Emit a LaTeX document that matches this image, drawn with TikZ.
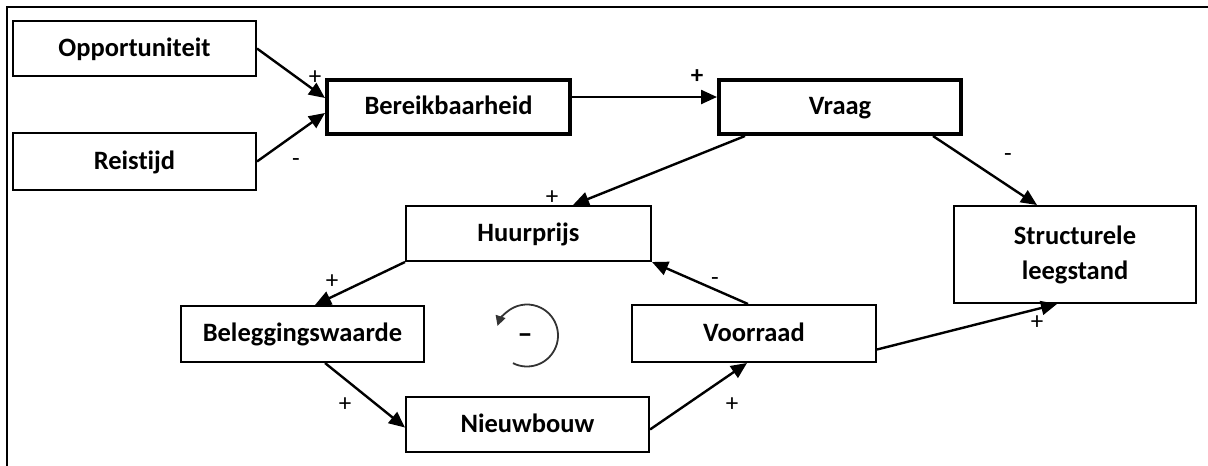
\documentclass[tikz,border=0pt]{standalone}
\usepackage{fontspec}
\setmainfont{Carlito}[Ligatures=CommonOff]
\usetikzlibrary{arrows.meta}
\tikzset{
  box/.style={draw=black, line width=2pt, rectangle, inner sep=0pt, font=\fontsize{26.5}{35}\selectfont\bfseries, text height=17pt, text depth=2pt},
  tallbox/.style={draw=black, line width=2pt, rectangle, inner sep=0pt, font=\fontsize{26.5}{35}\selectfont\bfseries, align=center},
  thickbox/.style={box, line width=4pt},
  link/.style={line width=2.4pt, -{Triangle[length=16pt,width=14pt]}},
  sign/.style={inner sep=0pt, font=\fontsize{25}{28}\selectfont},
  bsign/.style={sign, font=\fontsize{25}{28}\selectfont\bfseries}
}
\begin{document}
\begin{tikzpicture}[x=1pt,y=-1pt]
\useasboundingbox (0,0) rectangle (1208,466);
\draw[line width=2.5pt] (7,466) -- (7,7) -- (1208,7);

\node[box, minimum width=243, minimum height=55] (opp) at (134.5,48.5) {Opportuniteit};
\node[box, minimum width=243, minimum height=57] (reis) at (134.5,161.5) {Reistijd};
\node[thickbox, minimum width=243, minimum height=54] (ber) at (448.5,107) {Bereikbaarheid};
\node[thickbox, minimum width=242, minimum height=54] (vraag) at (840,107) {Vraag};
\node[box, minimum width=245, minimum height=55] (hp) at (528.5,233.5) {Huurprijs};
\node[box, minimum width=243, minimum height=56] (bw) at (302.5,334) {Beleggingswaarde};
\node[box, minimum width=243, minimum height=55] (nb) at (527.5,424.5) {Nieuwbouw};
\node[box, minimum width=244, minimum height=57] (vr) at (754,333.5) {Voorraad};
\node[tallbox, minimum width=242, minimum height=97] (sl) at (1075,254.5) {Structurele\\leegstand};

\draw[link] (opp.east) -- ([yshift=9]ber.west);
\draw[link] (reis.east) -- ([yshift=-6]ber.west);
\draw[link] ([yshift=10]ber.east) -- ([yshift=10]vraag.west);
\draw[link] ([xshift=28]vraag.south west) -- ([xshift=168]hp.north west);
\draw[link] ([xshift=-30]vraag.south east) -- ([xshift=84]sl.north west);
\draw[link] (hp.south west) -- ([xshift=135]bw.north west);
\draw[link] ([xshift=145]bw.south west) -- ([yshift=-3]nb.west);
\draw[link] ([yshift=-5]nb.east) -- ([xshift=116]vr.south west);
\draw[link] ([xshift=117]vr.north west) -- (hp.south east);
\draw[link] ([yshift=-16]vr.east) -- ([xshift=104]sl.south west);

\node[sign] (s1) at (315,78) {+};
\node[sign] (s2) at (296,163) {-};
\node[bsign] (s3) at (697,77) {+};
\node[sign] (s4) at (552,198) {+};
\node[sign] (s5) at (1008,158) {-};
\node[sign] (s6) at (332,282) {+};
\node[sign] (s7) at (345,405) {+};
\node[sign] (s8) at (732,405) {+};
\node[sign] (s9) at (715,282) {-};
\node[sign] (s10) at (1037,323) {+};

\coordinate (loopc) at (527,335.5);
\draw[line width=1.8pt, black!80, -{Triangle[length=10pt,width=10pt]}] ([shift={(117:31)}]loopc) arc[start angle=117, end angle=-162, radius=31];
\node[inner sep=0pt, font=\fontsize{30}{32}\selectfont\bfseries] (loopsign) at (525,339) {\textendash};
\end{tikzpicture}
\end{document}
